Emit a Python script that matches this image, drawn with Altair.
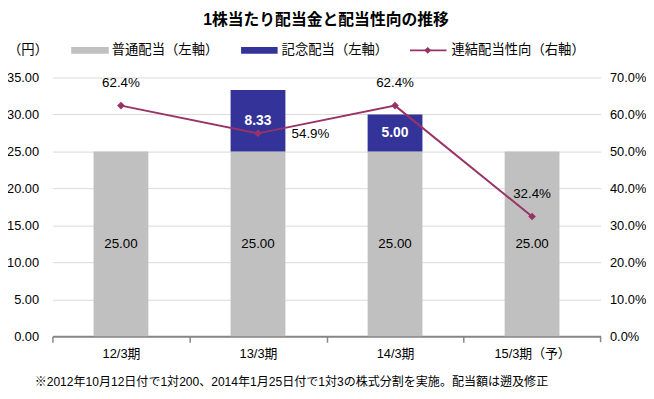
import altair as alt
import pandas as pd

categories = ["12/3期", "13/3期", "14/3期", "15/3期（予）"]
ordinary = [25.00, 25.00, 25.00, 25.00]
commemorative = [0.0, 8.33, 5.00, 0.0]
payout = [0.624, 0.549, 0.624, 0.324]
left_ticks = [0, 5, 10, 15, 20, 25, 30, 35]
right_ticks = [0.0, 0.1, 0.2, 0.3, 0.4, 0.5, 0.6, 0.7]
series_names = ["普通配当", "記念配当"]

title_text = "1株当たり配当金と配当性向の推移"
unit_text = "（円）"
legend_texts = ["普通配当（左軸）", "記念配当（左軸）", "連結配当性向（右軸）"]
footnote_text = "※2012年10月12日付で1対200、2014年1月25日付で1対3の株式分割を実施。配当額は遡及修正"

FONT = "Liberation Sans, Noto Sans CJK JP"
GREY = "#C0C0C0"
NAVY = "#333399"
LINE = "#993366"
W, H = 555, 262

rows = []
for c, o, m in zip(categories, ordinary, commemorative):
    rows.append({"cat": c, "series": series_names[0], "value": o, "base": 0.0})
    rows.append({"cat": c, "series": series_names[1], "value": m, "base": o})
bars_df = pd.DataFrame(rows)
bars_df["mid"] = bars_df["base"] + bars_df["value"] / 2
bars_df["top"] = bars_df["base"] + bars_df["value"]

line_df = pd.DataFrame({"cat": categories, "payout": payout})

step = W / 4.0
xscale = alt.Scale(paddingInner=0.6, paddingOuter=0.3)
xaxis = alt.Axis(
    title=None, labelAngle=0, grid=False,
    domainColor="#868686", domainWidth=2,
    tickColor="#868686", tickWidth=1.5, tickSize=6,
    tickOffset=-step / 2, labelOffset=step / 2,
    labelPadding=5, labelFontSize=13, labelColor="#000000", labelFont=FONT,
)
yleft_axis = alt.Axis(
    title=None, values=left_ticks, format=".2f", domain=False, ticks=False,
    grid=True, gridColor="#D9D9D9", gridWidth=1, labelOverlap=False,
    labelPadding=14, labelFontSize=13, labelColor="#000000", labelFont=FONT,
)
yright_axis = alt.Axis(
    title=None, orient="right", values=right_ticks, format=".1%", domain=False,
    ticks=False, grid=False, labelPadding=9, labelFontSize=13, labelOverlap=False,
    labelColor="#000000", labelFont=FONT,
)
yleft_scale = alt.Scale(domain=[0, 35], nice=False, zero=True)
yright_scale = alt.Scale(domain=[0, 0.7], nice=False, zero=True)


def X():
    return alt.X("cat:N", sort=categories, scale=xscale, axis=xaxis)


def YL(field):
    return alt.Y(field, scale=yleft_scale, axis=yleft_axis)


def YR(field):
    return alt.Y(field, scale=yright_scale, axis=yright_axis)


bars = alt.Chart(bars_df).mark_bar().encode(
    x=X(),
    y=YL("base:Q"),
    y2="top:Q",
    color=alt.Color("series:N", scale=alt.Scale(domain=series_names, range=[GREY, NAVY]), legend=None),
)

ord_text = alt.Chart(bars_df).transform_filter(
    alt.datum.series == series_names[0]
).mark_text(font=FONT, fontSize=13.5, color="#000000").encode(
    x=X(),
    y=YL("mid:Q"),
    text=alt.Text("value:Q", format=".2f"),
)

comm_text = alt.Chart(bars_df).transform_filter(
    (alt.datum.series == series_names[1]) & (alt.datum.value > 0)
).mark_text(font=FONT, fontSize=14, fontWeight="bold", color="#FFFFFF").encode(
    x=X(),
    y=YL("mid:Q"),
    text=alt.Text("value:Q", format=".2f"),
)

left = alt.layer(bars, ord_text, comm_text)

line = alt.Chart(line_df).mark_line(color=LINE, strokeWidth=2).encode(
    x=X(),
    y=YR("payout:Q"),
)
pts = alt.Chart(line_df).mark_point(shape="diamond", filled=True, size=60, color=LINE, opacity=1).encode(
    x=X(),
    y=YR("payout:Q"),
)
pct_above = alt.Chart(line_df).transform_filter(
    alt.datum.cat != categories[1]
).mark_text(font=FONT, fontSize=13.5, dy=-23, color="#000000").encode(
    x=X(),
    y=YR("payout:Q"),
    text=alt.Text("payout:Q", format=".1%"),
)
pct_right = alt.Chart(line_df).transform_filter(
    alt.datum.cat == categories[1]
).mark_text(font=FONT, fontSize=13.5, dx=34, dy=1, align="left", color="#000000").encode(
    x=X(),
    y=YR("payout:Q"),
    text=alt.Text("payout:Q", format=".1%"),
)
right = alt.layer(line, pts, pct_above, pct_right)


def label(text, x, y, size=13, weight="normal", align="left"):
    return alt.Chart(pd.DataFrame({"t": [text]})).mark_text(
        font=FONT, fontSize=size, fontWeight=weight, align=align, baseline="middle", color="#000000"
    ).encode(x=alt.value(x), y=alt.value(y), text="t:N")


one = pd.DataFrame({"k": [0]})
ox, oy = 53, 76  # page position of plot origin
deco = alt.layer(
    label(title_text, 330 - ox, 18 - oy, size=16, weight="bold", align="center"),
    label(unit_text, 8 - ox, 48 - oy, size=13.5),
    alt.Chart(one).mark_rect(color=GREY).encode(
        x=alt.value(72 - ox), x2=alt.value(110 - ox), y=alt.value(45 - oy), y2=alt.value(52 - oy)),
    label(legend_texts[0], 113 - ox, 48 - oy, size=13.5),
    alt.Chart(one).mark_rect(color=NAVY).encode(
        x=alt.value(244 - ox), x2=alt.value(281 - ox), y=alt.value(45 - oy), y2=alt.value(52 - oy)),
    label(legend_texts[1], 285 - ox, 48 - oy, size=13.5),
    alt.Chart(one).mark_rule(color=LINE, strokeWidth=2).encode(
        x=alt.value(415 - ox), x2=alt.value(452 - ox), y=alt.value(48.5 - oy)),
    alt.Chart(one).mark_point(shape="diamond", filled=True, size=50, color=LINE, opacity=1).encode(
        x=alt.value(433 - ox), y=alt.value(48.5 - oy)),
    label(legend_texts[2], 457 - ox, 48 - oy, size=13.5),
    label(footnote_text, 295 - ox, 384 - oy, size=12.2, align="center"),
    alt.Chart(one).mark_rule(color="#868686", strokeWidth=1.5).encode(
        x=alt.value(W), y=alt.value(H), y2=alt.value(H + 6)),
)

chart = alt.layer(left, right, deco).resolve_scale(y="independent").properties(
    width=W,
    height=H,
    autosize=alt.AutoSizeParams(type="none"),
    padding={"left": ox - 8, "top": oy - 8, "right": 646 - W - (ox - 8), "bottom": 383 - H - (oy - 8)},
    background="#FFFFFF",
).configure_view(stroke=None)

chart.save("out.html", embed_options={"renderer": "svg", "actions": False})
